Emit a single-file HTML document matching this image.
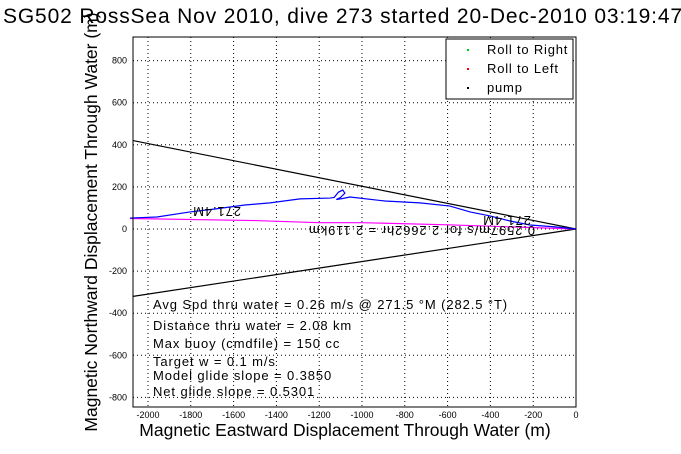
<!DOCTYPE html>
<html><head><meta charset="utf-8"><style>
body{margin:0;background:#fff;}
svg{display:block;font-family:"Liberation Sans",sans-serif;}
.ann{font-size:13px;letter-spacing:0.9px;}
</style></head><body>
<svg id="chart" width="681" height="454">
<rect width="681" height="454" fill="#fff"/>
<g id="grid"></g>
<g id="ticks"></g>
<g id="marks"></g>
<rect x="133" y="37" width="443" height="370" fill="none" stroke="#000"/>
<text x="3" y="23" font-size="21" letter-spacing="0.85">SG502 RossSea Nov 2010, dive 273 started 20-Dec-2010 03:19:47</text>
<text x="345" y="436" font-size="17.5" text-anchor="middle">Magnetic Eastward Displacement Through Water (m)</text>
<text transform="translate(97,222) rotate(-90)" font-size="17.5" text-anchor="middle">Magnetic Northward Displacement Through Water (m)</text>
<g class="ann">
<text x="153" y="309">Avg Spd thru water =  0.26 m/s @ 271.5   °M (282.5 °T)</text>
<text x="153" y="330">Distance thru water =  2.08 km</text>
<text x="153" y="348">Max buoy (cmdfile) = 150 cc</text>
<text x="153" y="366">Target w = 0.1 m/s</text>
<text x="153" y="380">Model glide slope = 0.3850</text>
<text x="153" y="396">Net glide slope = 0.5301</text>
<text transform="translate(241,207) rotate(180)">271.4M</text>
<text transform="translate(531,216) rotate(180)">271.4M</text>
<text transform="translate(535,226) rotate(180)">0.2597m/s for 2.2662hr = 2.119km</text>
</g>
<g>
<rect x="446" y="39" width="127" height="60" fill="#fff" stroke="#000"/>
<rect x="467" y="49" width="2" height="2" fill="#0c0"/>
<text x="487" y="54" font-size="13" letter-spacing="0.8">Roll to Right</text>
<rect x="467" y="68" width="2" height="2" fill="#f00"/>
<text x="487" y="73" font-size="13" letter-spacing="0.8">Roll to Left</text>
<rect x="467" y="87" width="2" height="2" fill="#000"/>
<text x="487" y="92" font-size="13" letter-spacing="0.8">pump</text>
</g>
</svg>
<script>
const xTicks=[-2000,-1800,-1600,-1400,-1200,-1000,-800,-600,-400,-200,0];
const yTicks=[-800,-600,-400,-200,0,200,400,600,800];
const trackX=[-2084,-1958,-1804,-1687,-1547,-1430,-1290,-1150,-1130,-1110,-1090,-1080,-1100,-1120,-1090,-1056,-893,-729,-589,-495,-402,-308,-215,-98,0];
const trackY=[52,57,81,95,114,124,143,147,150,175,185,170,150,140,145,152,133,124,109,81,62,38,19,10,0];
const driftX=[-2084,-1500,-1200,-1000,-600,-300,0];
const driftY=[50,40,30,30,20,10,0];
const glideUpperX=[-2070,0], glideUpperY=[420,0];
const glideLowerX=[-2070,0], glideLowerY=[-320,0];
const NS='http://www.w3.org/2000/svg';
function sx(v){return 576+v*0.214;}
function sy(v){return 229-v*0.2105;}
function el(t,a,p){const e=document.createElementNS(NS,t);for(const k in a)e.setAttribute(k,a[k]);p.appendChild(e);return e;}
const grid=document.getElementById('grid'),ticks=document.getElementById('ticks'),marks=document.getElementById('marks');
xTicks.forEach(v=>{const x=sx(v);
 const g=el('line',{x1:x,x2:x,y1:37,y2:407,stroke:'#000','stroke-dasharray':'1,3'},grid);
 
 
 const t=el('text',{x:x,y:418,'font-size':'9','text-anchor':'middle'},ticks);t.textContent=v;
 
 });
yTicks.forEach(v=>{const y=sy(v);
 const g=el('line',{x1:133,x2:576,y1:y,y2:y,stroke:'#000','stroke-dasharray':'1,3'},grid);
 
 
 const t=el('text',{x:127,y:y+3,'font-size':'9','text-anchor':'end'},ticks);t.textContent=v;
 
 });
function poly(xs,ys,c,name){const p=el('polyline',{points:xs.map((x,i)=>sx(x)+','+sy(ys[i])).join(' '),fill:'none',stroke:c,'stroke-width':'1.2'},marks);
 
 }
poly(glideUpperX,glideUpperY,'#000','glide-line-upper');
poly(glideLowerX,glideLowerY,'#000','glide-line-lower');
poly(driftX,driftY,'#f0f','drift-line');
poly(trackX,trackY,'#00f','dive-track');
</script>
</body></html>
